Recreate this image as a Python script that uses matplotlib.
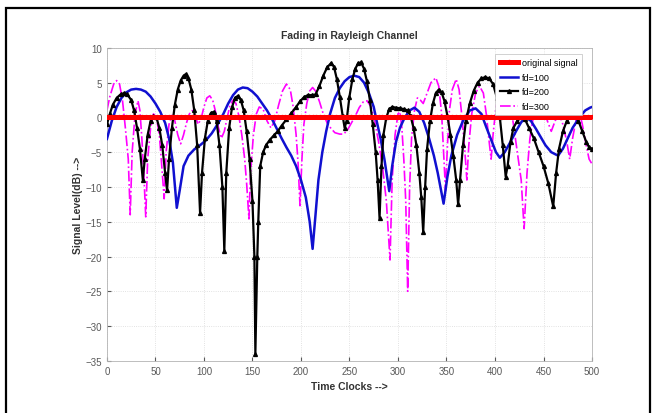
import matplotlib.pyplot as plt
from matplotlib.patches import Rectangle

plt.rcParams['font.family'] = ['Liberation Sans Narrow', 'Liberation Sans', 'DejaVu Sans']

# original signal (constant 0 dB)
t_orig = list(range(0, 501, 4))
orig = [0.0] * len(t_orig)

# fd=100
t_100 = [0, 5, 10, 15, 20, 25, 30, 35, 40, 45, 50, 55, 60, 64, 68, 72, 75, 79, 84, 90,
         96, 102, 108, 114, 120, 125, 130, 135, 140, 145, 150, 155, 160, 165, 170, 175,
         180, 185, 190, 195, 200, 205, 209, 212, 215, 218, 222, 226, 230, 235, 240, 245,
         250, 255, 260, 265, 270, 275, 278, 282, 286, 291, 294, 298, 302, 307, 312, 317,
         322, 327, 332, 337, 341, 347, 351, 355, 361, 367, 374, 380, 386, 391, 396, 401,
         405, 410, 416, 422, 427, 432, 437, 442, 447, 452, 458, 465, 470, 475, 480, 487,
         493, 498, 500]
fd_100 = [-3.1, -0.5, 1.5, 2.8, 3.6, 4.0, 4.1, 4.0, 3.7, 3.0, 2.0, 0.8, -0.8, -3.0, -6.5,
          -13.0, -10.5, -7.0, -5.5, -4.6, -4.0, -3.3, -2.3, -1.0, 0.5, 2.0, 3.2, 4.0, 4.3,
          4.2, 3.7, 3.0, 2.0, 1.0, -0.2, -1.6, -3.0, -4.3, -5.5, -7.0, -9.0, -11.5, -15.0,
          -18.9, -14.0, -9.0, -5.0, -2.0, 0.5, 2.8, 4.2, 5.2, 5.8, 6.0, 5.8, 5.0, 3.5, 1.5,
          -0.5, -3.0, -6.0, -10.6, -7.0, -3.5, -1.5, 0.0, 1.0, 1.4, 0.8, -0.8, -3.0, -5.5,
          -8.0, -12.4, -8.5, -5.5, -2.5, -0.5, 1.0, 1.3, 0.5, -1.4, -3.2, -5.0, -5.8, -5.0,
          -3.5, -1.9, -0.7, 0.0, -0.5, -1.6, -2.8, -4.0, -5.0, -5.5, -4.5, -3.0, -1.5, 0.0,
          1.0, 1.4, 1.5]

# fd=200
t_200 = [0, 3, 6, 10, 14, 18, 21, 25, 28, 31, 34, 37, 39, 42, 45, 48, 51, 54, 57, 60, 62,
         64, 67, 70, 73, 76, 79, 81, 84, 87, 90, 93, 96, 98, 101, 104, 107, 110, 113, 116,
         119, 121, 123, 126, 129, 132, 135, 138, 141, 144, 147, 150, 152, 153, 155, 156,
         158, 161, 164, 168, 172, 176, 180, 185, 190, 195, 199, 203, 207, 211, 215, 219,
         223, 227, 231, 234, 237, 240, 243, 245, 247, 250, 253, 256, 259, 262, 265, 268,
         271, 274, 277, 279, 281, 283, 285, 288, 291, 294, 298, 302, 306, 310, 313, 316,
         319, 322, 324, 326, 328, 330, 333, 336, 339, 342, 345, 348, 351, 354, 357, 360,
         362, 364, 367, 370, 374, 378, 382, 386, 390, 394, 398, 402, 405, 408, 411, 413,
         416, 419, 423, 427, 431, 435, 440, 445, 450, 455, 460, 463, 466, 470, 474, 478,
         482, 486, 490, 494, 497, 500]
fd_200 = [-1.0, 0.5, 1.8, 2.8, 3.3, 3.5, 3.3, 2.5, 1.0, -1.5, -4.5, -9.0, -6.0, -2.5,
          -0.5, 0.2, 0.0, -1.5, -4.0, -8.0, -10.5, -6.0, -1.5, 1.8, 4.0, 5.3, 6.0, 6.2,
          5.6, 4.0, 1.0, -4.0, -13.7, -8.0, -3.0, -0.5, 0.6, 0.8, -0.5, -4.0, -10.0,
          -19.2, -8.0, -1.5, 1.5, 2.8, 3.1, 2.5, 1.0, -2.0, -6.0, -12.0, -20.0, -34.0,
          -20.0, -15.0, -7.0, -5.0, -4.0, -3.2, -2.6, -2.0, -1.2, -0.3, 0.6, 1.5, 2.3,
          2.9, 3.2, 3.2, 3.3, 4.5, 6.0, 7.2, 7.8, 7.3, 5.5, 3.0, 0.2, -1.5, -0.5, 3.0, 5.5,
          7.0, 7.8, 7.9, 7.0, 5.2, 2.5, -1.0, -5.0, -9.0, -14.5, -7.0, -2.5, 0.0, 1.2, 1.5,
          1.4, 1.3, 1.2, 1.0, 0.2, -1.5, -4.0, -8.0, -11.5, -16.5, -10.0, -4.5, -0.5, 2.0,
          3.5, 4.0, 3.6, 2.3, 0.2, -2.5, -5.5, -9.0, -12.5, -9.0, -4.0, -0.5, 2.0, 3.8,
          5.0, 5.6, 5.8, 5.6, 4.8, 2.8, 0.0, -4.0, -8.5, -7.0, -3.5, -1.5, -0.5, 0.0, -0.3,
          -1.5, -3.0, -5.0, -7.0, -9.5, -12.8, -8.0, -4.5, -2.0, -0.5, 0.3, 0.3, -0.5,
          -2.0, -3.5, -4.3, -4.5]

# fd=300
t_300 = [0, 3, 7, 10, 13, 16, 19, 22, 24, 26, 29, 32, 34, 36, 38, 40, 42, 45, 48, 51, 54,
         56, 59, 61, 64, 67, 70, 73, 76, 79, 82, 85, 88, 91, 94, 97, 100, 103, 106, 109,
         112, 115, 118, 121, 124, 127, 130, 133, 136, 139, 142, 144, 146.4, 148, 151, 154,
         157, 161, 165, 169, 173, 177, 181, 185, 189, 192, 195, 197, 199, 201, 203, 206,
         209, 212, 215, 219, 223, 227, 231, 235, 240, 244, 248, 252, 256, 260, 264, 268,
         272, 276, 280, 284, 288, 291.8, 294, 297, 300, 302, 304, 306, 308, 310, 312, 314,
         317, 320, 323, 326, 330, 334, 339, 342, 345, 347, 349, 351, 353, 356, 360, 363,
         366, 369, 371, 373, 376, 380, 384, 388, 391, 394, 396, 398, 401, 405, 410, 415,
         419, 423, 427, 430, 433, 436, 440, 445, 450, 454, 458, 462, 466, 470, 474, 477,
         480, 484, 487, 490, 494, 497, 500]
fd_300 = [1.0, 3.0, 4.8, 5.3, 4.8, 2.5, -1.5, -6.0, -14.0, -5.0, 0.5, 2.4, 1.0, -3.0,
          -8.0, -14.3, -6.0, -1.5, 0.5, 0.0, -2.5, -6.0, -11.7, -5.0, -1.0, 0.3, -0.5,
          -2.5, -3.8, -2.5, -0.8, 0.5, 1.0, 0.2, -1.0, -0.2, 1.5, 2.8, 3.1, 2.5, 0.8, -1.5,
          -3.0, -2.0, 0.0, 1.8, 2.5, 2.0, 0.2, -2.5, -6.0, -9.5, -14.6, -8.0, -2.5, 0.5,
          1.5, 1.2, -0.5, -1.5, -0.5, 1.8, 3.8, 4.8, 4.0, 1.5, -2.5, -6.5, -12.7, -6.0,
          -1.0, 2.0, 3.8, 4.3, 3.8, 2.3, 0.5, -0.8, -1.6, -2.2, -2.4, -2.4, -1.8, -0.8,
          0.2, 1.4, 2.2, 2.4, 1.6, -0.5, -3.5, -7.0, -12.0, -20.5, -9.0, -2.5, 0.5, 0.8,
          -1.5, -6.0, -12.0, -25.0, -10.0, -3.0, 1.0, 2.8, 2.5, 2.0, 3.5, 5.0, 5.7, 4.5,
          0.5, -5.0, -10.5, -4.0, 1.0, 4.0, 5.5, 4.0, 0.0, -5.0, -9.0, -4.0, 0.5, 3.5, 4.5,
          3.5, 0.5, -3.5, -6.0, -2.5, 1.5, 3.5, 4.0, 2.5, -1.0, -5.0, -9.0, -16.0, -8.0,
          -3.0, 0.5, 2.0, 1.5, -0.5, -2.0, -0.5, 0.5, -1.0, -3.5, -6.0, -3.0, 0.0, 0.8,
          -1.0, -4.0, -6.0, -6.7]

fig = plt.figure(figsize=(6.52, 4.14), dpi=100)
ax = fig.add_axes([0.164, 0.126, 0.744, 0.756])

ax.plot(t_orig, orig, color='red', lw=3.6, marker='*', ms=3.5, label='original signal', zorder=5)
ax.plot(t_100, fd_100, color='#1010d0', lw=1.8, label='fd=100', zorder=3)
ax.plot(t_200, fd_200, color='black', lw=1.6, marker='^', ms=2.8, label='fd=200', zorder=4)
ax.plot(t_300, fd_300, color='#ff00ff', lw=1.2, ls='-.', label='fd=300', zorder=2)

ax.set_xlim(0, 500)
ax.set_ylim(-35, 10)
ax.set_xticks(range(0, 501, 50))
ax.set_yticks(range(-35, 11, 5))
ax.grid(True, color='0.85', ls=':', lw=0.6)
ax.tick_params(direction='in', labelsize=7, colors='0.35', length=3)
for s in ax.spines.values():
    s.set_color('0.7')
    s.set_linewidth(0.6)

ax.set_title('Fading in Rayleigh Channel', fontsize=7.5, fontweight='bold', color='0.2', pad=7)
ax.set_xlabel('Time Clocks -->', fontsize=7.5, fontweight='bold', color='0.2', labelpad=4)
ax.set_ylabel('Signal Level(dB) -->', fontsize=7.5, fontweight='bold', color='0.2', labelpad=2)

leg = ax.legend(loc='upper right', bbox_to_anchor=(0.988, 0.995), fontsize=6.5,
                frameon=True, fancybox=False, framealpha=1, edgecolor='0.75',
                labelspacing=0.6, handlelength=2.0, handletextpad=0.4, borderpad=0.5)
leg.get_frame().set_linewidth(0.5)
leg.set_zorder(10)

fig.patches.append(Rectangle((6 / 652, -0.02), 644 / 652, 1.0 - 9 / 414 + 0.02,
                             transform=fig.transFigure, fill=False, ec='black', lw=1.6))

plt.savefig('out.png', dpi=100)
